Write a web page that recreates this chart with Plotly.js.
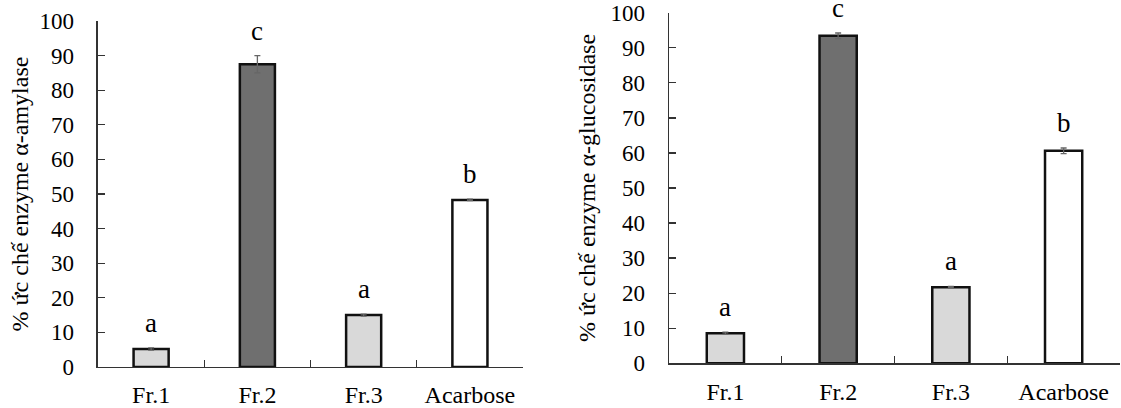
<!DOCTYPE html>
<html><head><meta charset="utf-8">
<script src="https://cdn.plot.ly/plotly-3.0.1.min.js"></script>
<style>html,body{margin:0;padding:0;background:#fff}#chart{width:1121px;height:408px}</style>
</head><body><div id="chart"></div>
<script>
const categories = ['Fr.1', 'Fr.2', 'Fr.3', 'Acarbose'];
const amylaseValues = [5.2, 87.5, 15.0, 48.3];
const amylaseErrors = [0.3, 2.5, 0.3, 0.2];
const glucosidaseValues = [8.6, 93.4, 21.7, 60.6];
const glucosidaseErrors = [0.3, 0.8, 0.2, 0.8];
const letters = ['a', 'c', 'a', 'b'];
const yTicks = [0, 10, 20, 30, 40, 50, 60, 70, 80, 90, 100];
const amylaseTitle = '% ức chế enzyme α-amylase';
const glucosidaseTitle = '% ức chế enzyme α-glucosidase';

const barColors = ['#d9d9d9', '#6f6f6f', '#d9d9d9', '#ffffff'];
const FONT = 'Liberation Serif, Times New Roman, serif';

function barTrace(vals, errs, xa, ya) {
  return {
    type: 'bar', x: categories, y: vals, xaxis: xa, yaxis: ya, width: 0.33,
    marker: {color: barColors, line: {color: '#111', width: 2.5}},
    error_y: {type: 'data', array: errs, visible: true, color: '#666', thickness: 1.3, width: 3},
    hoverinfo: 'skip', showlegend: false
  };
}

const traces = [
  barTrace(amylaseValues, amylaseErrors, 'x', 'y'),
  barTrace(glucosidaseValues, glucosidaseErrors, 'x2', 'y2')
];

function letterAnns(vals, errs, xr, yr) {
  return categories.map((c, i) => ({
    x: c, y: vals[i] + errs[i], xref: xr, yref: yr, text: letters[i],
    showarrow: false, yanchor: 'bottom', yshift: 8,
    font: {family: FONT, size: 27, color: '#000'}
  }));
}

const xBase = {
  type: 'category', showgrid: false, zeroline: false, showline: true,
  linecolor: '#333', linewidth: 1.5, ticks: 'inside', ticklen: 7, tickwidth: 1.3,
  tickcolor: '#333', tickson: 'boundaries', ticklabelstandoff: 6,
  tickfont: {family: FONT, size: 24, color: '#000'}, fixedrange: true
};
const yBase = {
  range: [0, 100], tickvals: yTicks, showgrid: false, zeroline: false, showline: true,
  linecolor: '#333', linewidth: 1.5, ticks: 'inside', ticklen: 7, tickwidth: 1.3,
  tickcolor: '#333', ticklabelstandoff: 18,
  tickfont: {family: FONT, size: 23, color: '#000'}, fixedrange: true
};

const layout = {
  width: 1121, height: 408, margin: {l: 0, r: 0, t: 0, b: 0},
  paper_bgcolor: '#fff', plot_bgcolor: 'rgba(0,0,0,0)', showlegend: false,
  xaxis: Object.assign({}, xBase, {domain: [0.0874, 0.4666], anchor: 'y'}),
  yaxis: Object.assign({}, yBase, {domain: [0.1005, 0.9485], anchor: 'x',
    title: {text: amylaseTitle, standoff: 4, font: {family: FONT, size: 24, color: '#000'}}}),
  xaxis2: Object.assign({}, xBase, {domain: [0.5968, 0.9991], anchor: 'y2'}),
  yaxis2: Object.assign({}, yBase, {domain: [0.1096, 0.9689], anchor: 'x2',
    title: {text: glucosidaseTitle, standoff: 8, font: {family: FONT, size: 24, color: '#000'}}}),
  annotations: letterAnns(amylaseValues, amylaseErrors, 'x', 'y')
    .concat(letterAnns(glucosidaseValues, glucosidaseErrors, 'x2', 'y2'))
};

Plotly.newPlot('chart', traces, layout, {displayModeBar: false, staticPlot: true});
</script></body></html>
